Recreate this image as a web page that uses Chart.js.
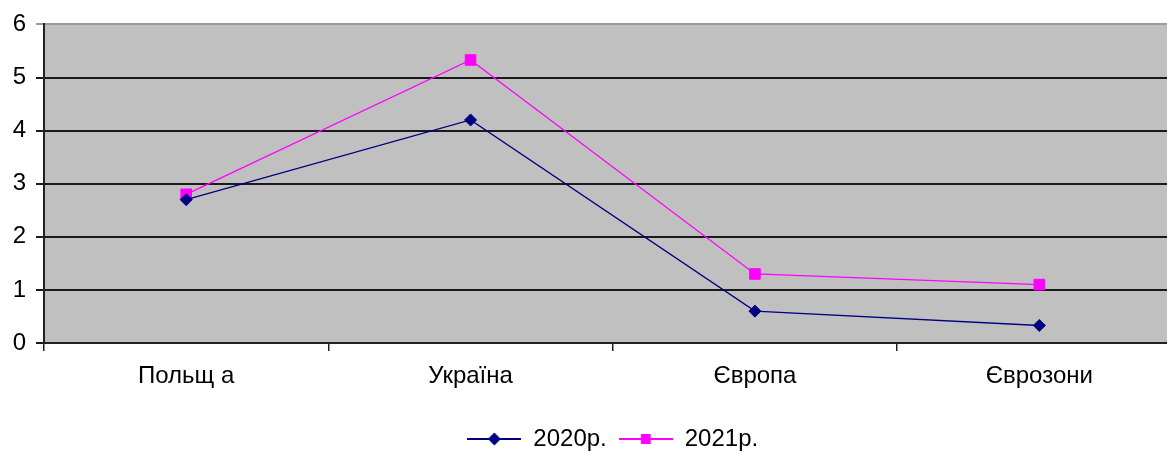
<!DOCTYPE html>
<html>
<head>
<meta charset="utf-8">
<script src="https://cdn.jsdelivr.net/npm/chart.js@4/dist/chart.umd.min.js"></script>
<style>
  html, body { margin: 0; padding: 0; background: #fff; overflow: hidden; }
  #wrap { position: relative; width: 1190px; height: 461px; }
</style>
</head>
<body>
<div id="wrap"><canvas id="c"></canvas></div>
<script>
// Categories and series
const categories = ['Польщ а', 'Україна', 'Європа', 'Єврозони'];
const seriesLabels = ['2020р.', '2021р.'];
const values2020 = [2.7, 4.2, 0.6, 0.33];
const values2021 = [2.8, 5.33, 1.3, 1.1];
const yTickValues = [0, 1, 2, 3, 4, 5, 6];

const FONT = { family: 'Arial, "Liberation Sans", sans-serif', size: 24 };

// Legend glyph: a short line with the series marker in the middle
function legendGlyph(color, style, radius) {
  const cv = document.createElement('canvas');
  cv.width = 54; cv.height = 18;
  const g = cv.getContext('2d');
  g.strokeStyle = color; g.lineWidth = 2;
  g.beginPath(); g.moveTo(0, 9); g.lineTo(54, 9); g.stroke();
  g.fillStyle = color;
  Chart.helpers.drawPoint(g, { pointStyle: style, radius: radius, rotation: 0, borderWidth: 1 }, 27, 9);
  g.fill();
  return cv;
}

// Grey plot area
const plotBackground = {
  id: 'plotBackground',
  beforeDraw(chart) {
    const a = chart.chartArea, ctx = chart.ctx;
    ctx.save();
    ctx.fillStyle = '#c0c0c0';
    ctx.fillRect(a.left, a.top, a.right - a.left, a.bottom - a.top);
    ctx.restore();
  }
};

const styles = [
  { color: '#000080', point: 'rectRot', radius: 6 },
  { color: '#ff00ff', point: 'rect', radius: 7.5 }
];

new Chart(document.getElementById('c'), {
  type: 'line',
  data: {
    labels: categories,
    datasets: [values2020, values2021].map((vals, i) => ({
      label: seriesLabels[i],
      data: vals,
      borderColor: styles[i].color,
      backgroundColor: styles[i].color,
      borderWidth: 1.3,
      pointStyle: styles[i].point,
      pointRadius: styles[i].radius,
      pointHoverRadius: styles[i].radius,
      pointBorderWidth: 1,
      tension: 0,
      fill: false
    }))
  },
  options: {
    responsive: true,
    maintainAspectRatio: false,
    animation: false,
    layout: { padding: { top: 22, right: 0, bottom: 0, left: 0 } },
    plugins: {
      tooltip: { enabled: false },
      legend: {
        position: 'bottom',
        fullSize: false,
        labels: {
          usePointStyle: true,
          pointStyleWidth: 54,
          padding: 12,
          color: '#000',
          font: FONT,
          generateLabels(chart) {
            return chart.data.datasets.map((ds, i) => ({
              text: ds.label,
              pointStyle: legendGlyph(styles[i].color, styles[i].point, i === 0 ? 5 : 5.5),
              fillStyle: styles[i].color,
              strokeStyle: styles[i].color,
              lineWidth: 0,
              hidden: false,
              datasetIndex: i,
              fontColor: '#000'
            }));
          }
        }
      }
    },
    scales: {
      x: {
        offset: true,
        afterFit(scale) { scale.height = 72; },
        grid: {
          offset: true,
          drawOnChartArea: false,
          drawTicks: true,
          tickLength: 8,
          color: '#222',
          lineWidth: 1.5
        },
        border: { display: true, color: '#222', width: 2 },
        ticks: { color: '#000', font: FONT, padding: 11, maxRotation: 0, autoSkip: false }
      },
      y: {
        min: 0,
        max: 6,
        afterFit(scale) { scale.width = 44; },
        afterBuildTicks(scale) { scale.ticks = yTickValues.map(v => ({ value: v })); },
        grid: {
          drawTicks: true,
          tickLength: 8,
          color: ctx => (ctx.tick && ctx.tick.value === 6) ? '#9a9a9a' : '#1a1a1a',
          lineWidth: 2
        },
        border: { display: true, color: '#222', width: 2 },
        ticks: { color: '#000', font: FONT, padding: 10, stepSize: 1 }
      }
    }
  },
  plugins: [plotBackground]
});
</script>
</body>
</html>
